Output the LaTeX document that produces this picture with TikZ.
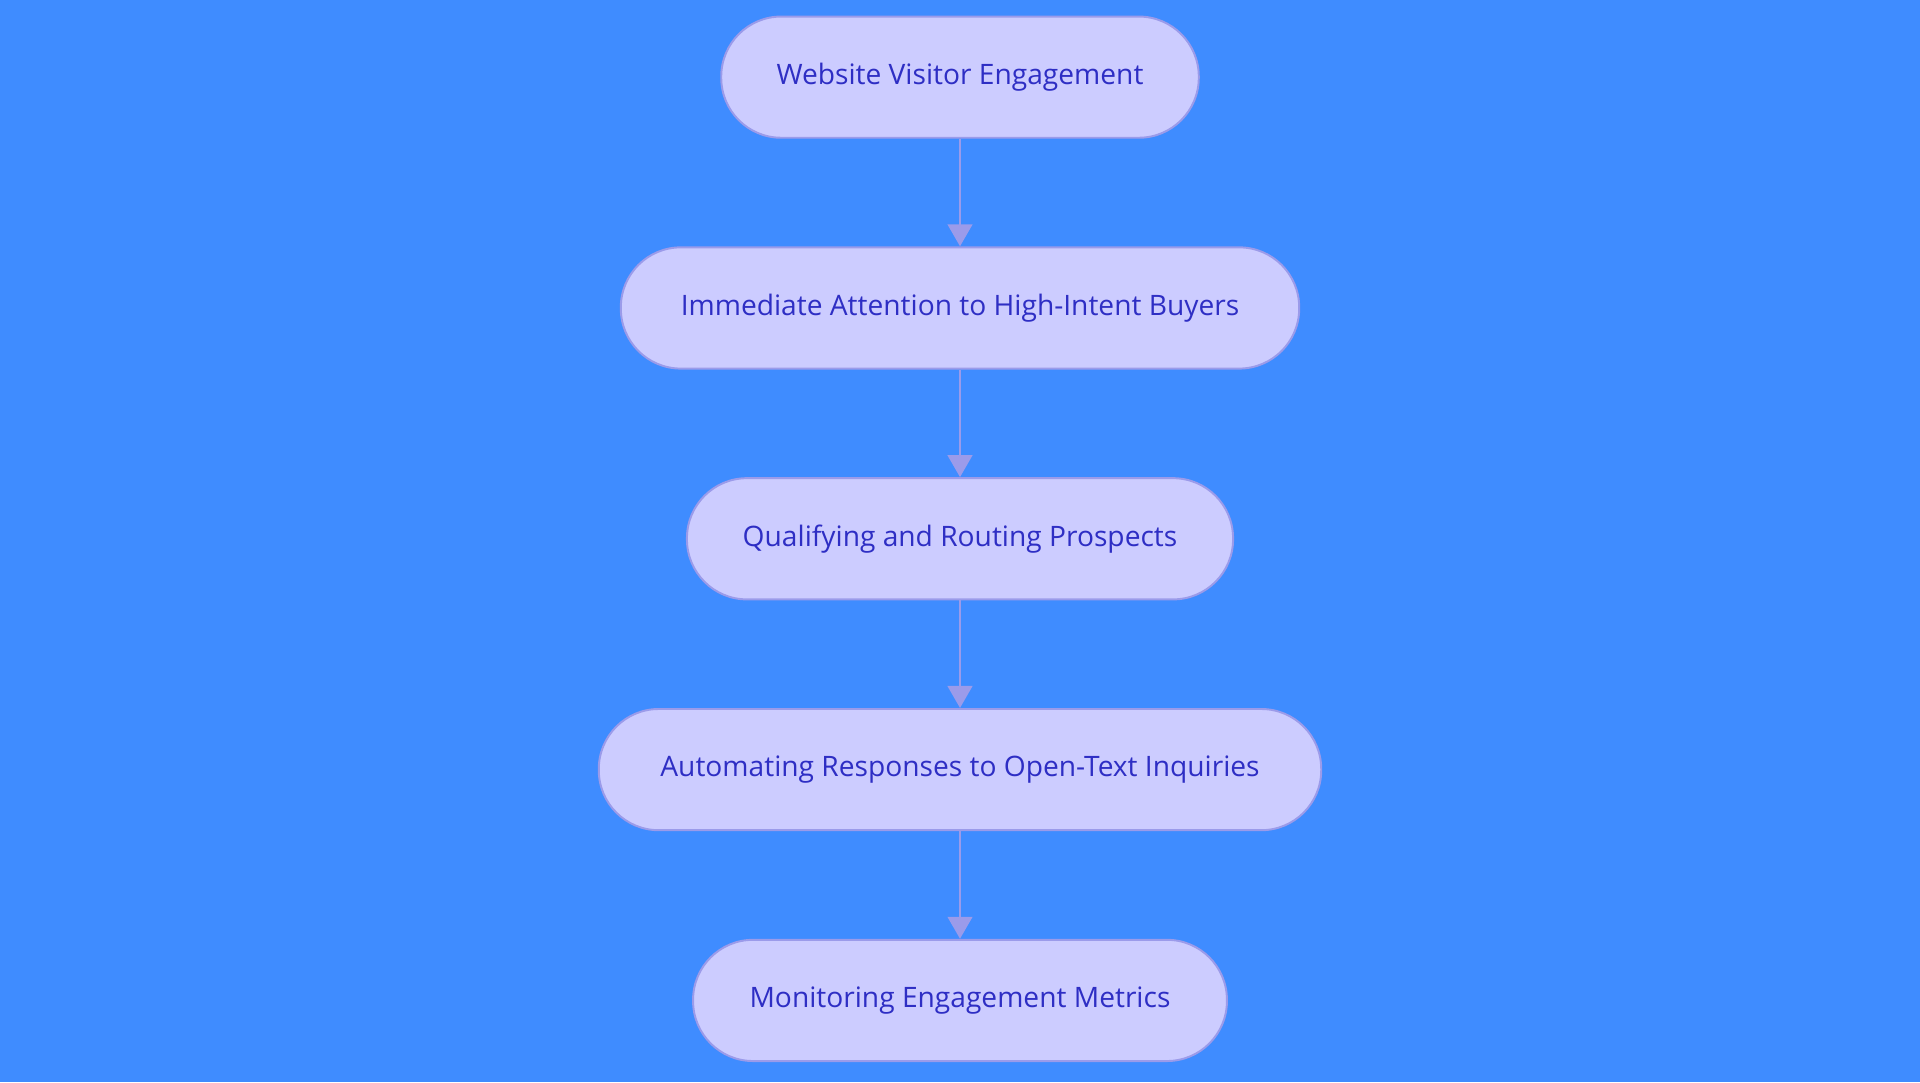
\documentclass[tikz,border=0pt]{standalone}
\usepackage{fontspec}
\setmainfont{Open Sans}
\usetikzlibrary{arrows.meta}
\definecolor{bg}{HTML}{3F8CFF}
\definecolor{nf}{HTML}{CCCCFF}
\definecolor{nd}{HTML}{9B9BEA}
\definecolor{tx}{HTML}{2E2EC4}
\begin{document}
\begin{tikzpicture}[x=0.5pt,y=-0.5pt,
  box/.style={draw=nd,line width=0.8pt,fill=nf,rounded corners=24.5pt,minimum height=49.5pt,text=tx,font=\fontsize{11.5}{13}\selectfont,inner sep=0pt},
  arr/.style={draw=nd,line width=1.2pt,-{Triangle[length=9pt,width=10pt]}}]
\fill[bg] (0,0) rectangle (1568,884);
\node[box,minimum width=195pt] (a) at (784,63) {Website Visitor Engagement};
\node[box,minimum width=277pt] (b) at (784,251.5) {Immediate Attention to High-Intent Buyers};
\node[box,minimum width=223pt] (c) at (784,440) {Qualifying and Routing Prospects};
\node[box,minimum width=295pt] (d) at (784,628.5) {Automating Responses to Open-Text Inquiries};
\node[box,minimum width=218pt] (e) at (784,817) {Monitoring Engagement Metrics};
\draw[arr] (a) -- (b);
\draw[arr] (b) -- (c);
\draw[arr] (c) -- (d);
\draw[arr] (d) -- (e);
\end{tikzpicture}
\end{document}
